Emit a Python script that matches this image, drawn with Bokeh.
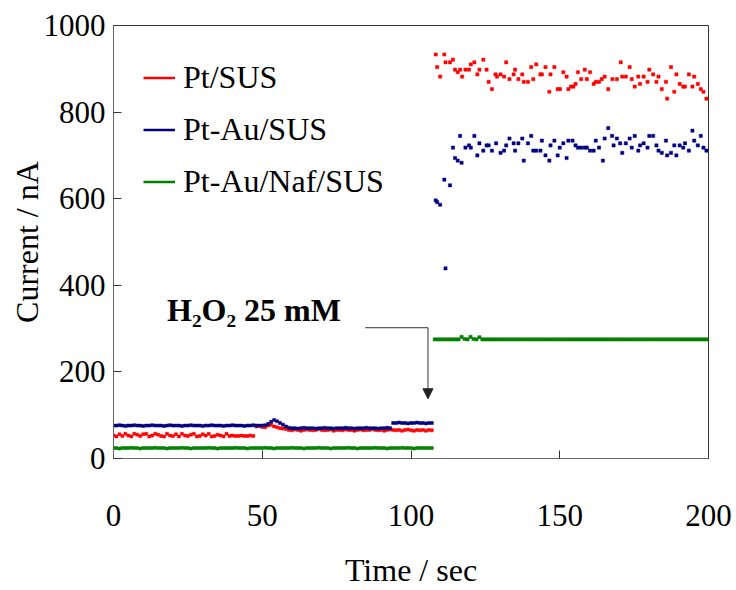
from bokeh.plotting import figure
from bokeh.models import Range1d, FixedTicker, Legend, LegendItem, Label, Arrow, NormalHead
from bokeh.embed import file_html
from bokeh.resources import INLINE

# ---------------- data ----------------
series_names = ["Pt/SUS", "Pt-Au/SUS", "Pt-Au/Naf/SUS"]
series_colors = ["#FF0000", "#000080", "#008000"]

# before injection (sampling every second, 0 .. 107 s)
t_pre = list(range(0, 108))

pt_pre = [53, 51, 56, 52, 57, 53, 51, 57, 55, 52, 56, 57, 51, 53, 57, 55, 52, 51, 57, 53,
          52, 56, 51, 57, 53, 52, 55, 57, 51, 52, 56, 53, 57, 51, 52, 55, 53, 51, 57, 52,
          53, 52, 52, 53, 52, 52, 53, 52,
          74, 75, 73, 72, 76, 78, 74, 72, 70, 69, 68,
          66, 65, 67, 66, 64, 66, 67, 66, 65, 66, 68, 66, 65, 66, 67, 64, 66, 66, 65, 67,
          66, 66, 64, 66, 67, 65, 66, 66, 68, 66, 65, 66, 64, 66, 67, 66, 65, 66, 64, 66,
          67, 65, 64, 66, 65, 66, 64, 66, 65]

ptau_pre = [76, 76, 77, 76, 75, 76, 76, 77, 76, 76, 75, 76, 76, 77, 76, 76, 76, 75, 76, 77,
            76, 76, 76, 75, 76, 76, 77, 76, 76, 76, 75, 76, 76, 77, 76, 76, 76, 75, 76, 76,
            77, 76, 76, 76, 75, 76, 76, 77, 76, 76, 76,
            77, 80, 85, 89, 86, 82, 78, 74,
            71, 70, 70, 69, 70, 71, 70, 70, 70, 69, 70, 70, 71, 70, 70, 69, 70, 70, 70, 71,
            70, 70, 69, 70, 70, 70, 71, 70, 70, 70, 69, 70, 70, 71, 70,
            82, 82, 83, 82, 82, 81, 82, 82, 83, 82, 82, 81, 82, 82]

ptaunaf_pre = [24, 24, 23, 24, 24, 24, 25, 24, 24, 23, 24, 24, 24, 24, 25, 24, 24, 24, 23, 24,
               24, 24, 24, 25, 24, 24, 23, 24, 24, 24, 24, 24, 25, 24, 24, 23, 24, 24, 24, 24,
               24, 25, 24, 24, 24, 23, 24, 24, 24, 24, 24, 25, 24, 24, 23, 24, 24, 24, 24, 24,
               25, 24, 24, 24, 23, 24, 24, 24, 24, 25, 24, 24, 24, 23, 24, 24, 24, 24, 24, 25,
               24, 24, 23, 24, 24, 24, 24, 24, 25, 24, 24, 24, 23, 24, 24, 24, 24, 25, 24, 24,
               24, 23, 24, 24, 24, 24, 24, 24]

# after injection
pt_post_t = [108.3, 108.8, 109.8, 111.2, 111.6, 113.1, 114.1, 114.8, 115.7, 116.5,
             117.2, 118.3, 119.5, 120.1, 121.3, 122.3, 123.0, 124.3, 125.4, 126.1,
             127.2, 128.4, 128.9, 130.1, 131.3, 132.0, 133.1, 134.5, 135.0, 136.1,
             137.4, 137.9, 139.3, 140.4, 141.1, 142.1, 143.5, 144.0, 145.2, 146.5,
             146.9, 148.2, 149.3, 150.1, 151.2, 152.3, 152.9, 153.8, 154.6, 155.3,
             156.1, 157.2, 158.4, 159.1, 160.2, 161.4, 162.1, 163.2, 164.1, 165.1,
             166.3, 167.7, 169.2, 170.5, 171.0, 172.2, 173.5, 174.2, 175.2, 176.4,
             177.0, 178.2, 179.5, 180.1, 181.4, 182.5, 183.2, 184.3, 185.7, 186.1,
             187.4, 188.5, 189.2, 190.3, 191.5, 192.1, 193.4, 194.6, 195.2, 196.4,
             197.4, 198.3, 199.3]
pt_post = [933, 904, 882, 933, 915, 915, 921, 898, 892, 898,
           882, 898, 898, 910, 915, 887, 898, 921, 898, 870,
           853, 887, 882, 887, 882, 915, 876, 887, 898, 876,
           887, 870, 870, 904, 876, 910, 887, 887, 904, 847,
           887, 904, 853, 853, 892, 882, 853, 859, 859, 865,
           892, 876, 898, 876, 892, 865, 870, 870, 876, 882,
           853, 876, 876, 915, 882, 882, 904, 876, 859, 882,
           865, 882, 870, 898, 887, 870, 882, 853, 870, 831,
           904, 847, 887, 865, 859, 859, 887, 859, 882, 865,
           853, 847, 831]

ptau_post_t = [108.3, 108.8, 109.8, 111.2, 111.6, 113.1, 114.1, 114.8, 115.7, 116.5,
               117.0, 118.3, 119.5, 120.1, 121.3, 122.3, 123.0, 124.3, 125.4, 126.1,
               127.2, 128.6, 130.1, 131.3, 132.0, 133.1, 134.5, 135.0, 136.1, 137.4,
               137.9, 139.3, 140.4, 141.1, 142.1, 143.5, 144.0, 145.2, 146.5, 146.9,
               148.2, 149.3, 150.0, 151.2, 152.3, 152.9, 154.3, 155.3, 156.1, 157.2,
               158.4, 159.1, 160.2, 161.4, 162.1, 163.2, 164.5, 165.1, 166.3, 167.6,
               168.1, 169.2, 170.3, 171.0, 172.2, 173.5, 174.2, 175.2, 176.4, 177.0,
               178.2, 179.5, 180.1, 181.4, 182.5, 183.2, 184.3, 185.7, 186.1, 187.4,
               188.5, 189.2, 190.3, 191.5, 192.1, 193.4, 194.6, 195.2, 196.4, 197.4,
               198.3, 199.3]
ptau_post = [596, 592, 586, 644, 439, 631, 718, 694, 688, 745,
             683, 718, 723, 718, 745, 700, 728, 711, 723, 723,
             711, 728, 706, 711, 723, 739, 728, 711, 728, 739,
             688, 728, 745, 711, 711, 711, 734, 700, 688, 723,
             734, 700, 718, 728, 694, 734, 734, 723, 718, 718,
             718, 718, 711, 711, 734, 718, 688, 739, 763, 745,
             723, 739, 728, 706, 728, 739, 718, 745, 711, 723,
             728, 718, 745, 745, 723, 711, 706, 734, 700, 706,
             723, 700, 723, 718, 728, 711, 757, 734, 723, 745,
             718, 711]

t_post = list(range(108, 201))
ptaunaf_post = [275, 275, 275, 275, 275, 275, 275, 275, 275, 281,
                276, 275, 281, 276, 275, 280, 275, 275, 275, 275,
                275, 275, 275, 275, 275, 275, 275, 275, 275, 275,
                275, 275, 275, 275, 275, 275, 275, 275, 275, 275,
                275, 275, 275, 275, 275, 275, 275, 275, 275, 275,
                275, 275, 275, 275, 275, 275, 275, 275, 275, 275,
                275, 275, 275, 275, 275, 275, 275, 275, 275, 275,
                275, 275, 275, 275, 275, 275, 275, 275, 275, 275,
                275, 275, 275, 275, 275, 275, 275, 275, 275, 275,
                275, 275, 275]

x_ticks = [0, 50, 100, 150, 200]
y_ticks = [0, 200, 400, 600, 800, 1000]

x_title = "Time / sec"
y_title = "Current / nA"

# annotation
annotation_text = "H\u2082O\u2082 25 mM"
annotation_pos = (18.0, 343)
arrow_path_x = [84.6, 105.7]
arrow_level = 302
arrow_tip = 138

# ---------------- figure ----------------
FONT = "Liberation Serif"
NAN = float("nan")

p = figure(width=736, height=590, output_backend="svg", toolbar_location=None,
           x_range=Range1d(0, 200), y_range=Range1d(0, 1000),
           min_border_left=113, min_border_right=28, min_border_top=25, min_border_bottom=132)
p.xgrid.visible = False
p.ygrid.visible = False
p.background_fill_color = "white"
p.border_fill_color = "white"
p.outline_line_color = "#333333"
p.outline_line_width = 1

for ax, ticks in ((p.xaxis[0], x_ticks), (p.yaxis[0], y_ticks)):
    ax.ticker = FixedTicker(ticks=ticks)
    ax.major_tick_in = 8
    ax.major_tick_out = 0
    ax.minor_tick_line_color = None
    ax.axis_line_color = "#666666"
    ax.major_tick_line_color = "#333333"
    ax.major_label_text_font = FONT
    ax.major_label_text_font_size = "31px"
    ax.major_label_text_color = "black"
    ax.axis_label_text_font = FONT
    ax.axis_label_text_font_size = "32px"
    ax.axis_label_text_font_style = "normal"
    ax.axis_label_text_color = "black"

p.xaxis[0].axis_label = x_title
p.xaxis[0].major_label_standoff = 46
p.xaxis[0].axis_label_standoff = 23
p.yaxis[0].axis_label = y_title
p.yaxis[0].major_label_standoff = 8
p.yaxis[0].axis_label_standoff = -4

# data markers
groups = [
    (t_pre, pt_pre, pt_post_t, pt_post),
    (t_pre, ptau_pre, ptau_post_t, ptau_post),
    (t_pre, ptaunaf_pre, t_post, ptaunaf_post),
]
items = []
for (tx1, y1, tx2, y2), name, col in zip(groups, series_names, series_colors):
    p.scatter(tx1, y1, marker="square", size=3.0, fill_color=col, line_color=col, line_width=0.5)
    p.scatter(tx2, y2, marker="square", size=3.2, fill_color=col, line_color=col, line_width=0.5)
    proxy = p.line(x=[NAN], y=[NAN], line_color=col, line_width=2.5)
    items.append(LegendItem(label=name, renderers=[proxy]))

legend = Legend(items=items, location=(30, 258), orientation="vertical",
                glyph_width=32, glyph_height=37, label_height=37, spacing=15,
                padding=0, margin=0, label_standoff=8,
                label_text_font=FONT, label_text_font_size="32px", label_text_color="black",
                border_line_alpha=0, background_fill_alpha=0)
p.add_layout(legend)

# annotation
p.add_layout(Label(x=annotation_pos[0], y=annotation_pos[1], text=annotation_text,
                   text_font=FONT, text_font_size="32px", text_font_style="bold",
                   text_color="black", text_baseline="alphabetic", text_align="left"))
p.line(x=arrow_path_x, y=[arrow_level, arrow_level], line_color="#333333", line_width=1)
p.add_layout(Arrow(x_start=arrow_path_x[1], y_start=arrow_level,
                   x_end=arrow_path_x[1], y_end=arrow_tip,
                   line_color="#333333", line_width=1,
                   end=NormalHead(size=10, fill_color="#222222", line_color="#222222")))

open("out.html", "w").write(file_html(p, INLINE))
